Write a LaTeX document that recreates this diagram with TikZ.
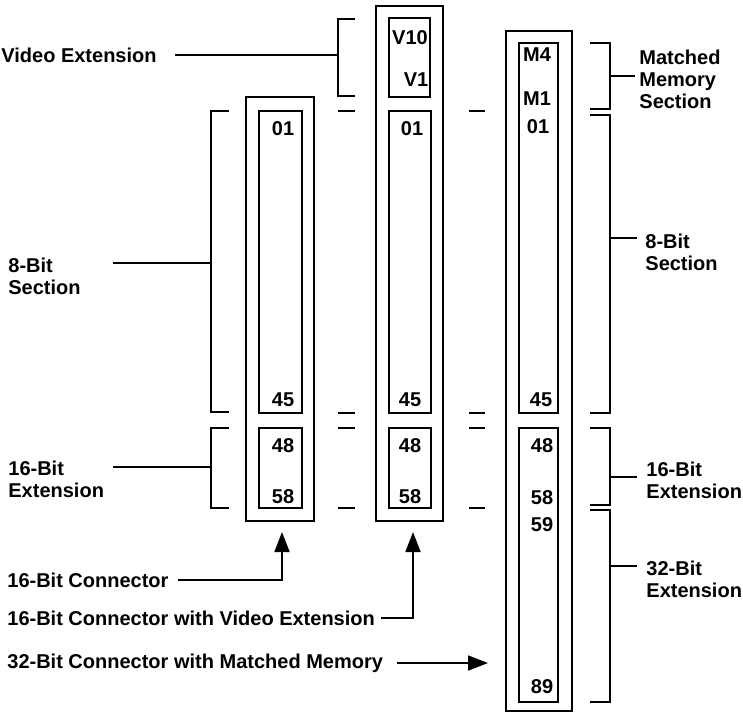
\documentclass[tikz,border=0pt]{standalone}
\usepackage{fontspec}
\setmainfont{Liberation Sans}
\usetikzlibrary{arrows.meta}

\begin{document}
\begin{tikzpicture}[x=0.5pt,y=-0.5pt,
  lbl/.style={font=\bfseries\fontsize{10}{11}\selectfont,align=left,anchor=west,inner sep=0pt},
  pin/.style={font=\bfseries\fontsize{10}{11}\selectfont,inner sep=0pt},
  box/.style={line width=1pt},
  brk/.style={line width=0.9pt},
  >={Triangle[length=10pt,width=7.5pt]}]
\useasboundingbox (0,0) rectangle (743,713);

% connector outlines
\draw[box] (246,97) rectangle (314,521);
\draw[box] (259,111) rectangle (302,413);
\draw[box] (259,428) rectangle (302,508);
\draw[box] (376,6) rectangle (443,521);
\draw[box] (389,18) rectangle (430,97);
\draw[box] (389,111) rectangle (431,413);
\draw[box] (389,428) rectangle (431,508);
\draw[box] (506,31) rectangle (572,711);
\draw[box] (519,43) rectangle (558,413);
\draw[box] (519,428) rectangle (558,702);

% pin numbers
\node[pin] (pinA01) at (283,129) {01};
\node[pin] (pinA45) at (283,400) {45};
\node[pin] (pinA48) at (283,446) {48};
\node[pin] (pinA58) at (283,497) {58};
\node[pin] (pinV10) at (410,38) {V10};
\node[pin] (pinV1) at (416,80) {V1};
\node[pin] (pinB01) at (412,129) {01};
\node[pin] (pinB45) at (410,400) {45};
\node[pin] (pinB48) at (410,446) {48};
\node[pin] (pinB58) at (410,497) {58};
\node[pin] (pinM4) at (537,55) {M4};
\node[pin] (pinM1) at (537,99) {M1};
\node[pin] (pinC01) at (538,127) {01};
\node[pin] (pinC45) at (541,400) {45};
\node[pin] (pinC48) at (542,446) {48};
\node[pin] (pinC58) at (542,498) {58};
\node[pin] (pinC59) at (542,525) {59};
\node[pin] (pinC89) at (542,687) {89};

% alignment dashes
\foreach \y in {111,413,428,508} {
  \draw[brk] (338,\y) -- (355,\y);
  \draw[brk] (469,\y) -- (485,\y);
}

% left labels and brackets
\node[lbl] (videoExt) at (1,55) {Video Extension};
\node[lbl] (eightSecL) at (8,276) {8-Bit\\Section};
\node[lbl] (sixteenExtL) at (8,479) {16-Bit\\Extension};
\coordinate (videoTick) at (338,55);
\coordinate (eightTickL) at (211,263);
\coordinate (sixteenTickL) at (211,467);
\draw[brk] (355,19) -- (338,19) -- (338,96) -- (355,96);
\draw[brk] (229,111) -- (211,111) -- (211,412) -- (229,412);
\draw[brk] (229,428) -- (211,428) -- (211,508) -- (229,508);
\draw[brk] (175,55) -- (videoTick);
\draw[brk] (113,263) -- (eightTickL);
\draw[brk] (113,467) -- (sixteenTickL);

% right labels and brackets
\node[lbl] (matchedMem) at (639,79) {Matched\\Memory\\Section};
\node[lbl] (eightSecR) at (645,252) {8-Bit\\Section};
\node[lbl] (sixteenExtR) at (646,480) {16-Bit\\Extension};
\node[lbl] (thirtytwoExt) at (646,579) {32-Bit\\Extension};
\draw[brk] (590,43) -- (610,43) -- (610,109) -- (590,109);
\draw[brk] (590,115) -- (610,115) -- (610,413) -- (590,413);
\draw[brk] (590,428) -- (610,428) -- (610,505) -- (590,505);
\draw[brk] (590,510) -- (610,510) -- (610,702) -- (590,702);
\draw[brk] (610,76) -- (635,76);
\draw[brk] (610,238) -- (637,238);
\draw[brk] (610,477) -- (637,477);
\draw[brk] (610,566) -- (637,566);

% connector arrows
\node[lbl] (conn16) at (7,580) {16-Bit Connector};
\node[lbl] (conn16Video) at (7,618) {16-Bit Connector with Video Extension};
\node[lbl] (conn32) at (7,663) {32-Bit Connector with Matched Memory};
\coordinate (tipA) at (282,532);
\coordinate (tipB) at (413,532);
\coordinate (tipC) at (488,663);
\draw[brk,->] (178,580) -| (tipA);
\draw[brk,->] (381,618) -| (tipB);
\draw[brk,->] (397,663) -- (tipC);
\end{tikzpicture}
\end{document}
